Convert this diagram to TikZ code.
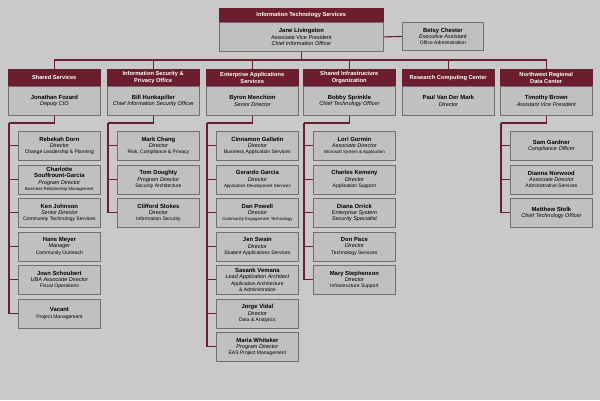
\documentclass[tikz,border=0pt]{standalone}
\usepackage{fontspec}
\setmainfont{Liberation Sans}
\definecolor{maroon}{HTML}{6B1E2E}
\definecolor{boxgray}{HTML}{C0C0C0}
\definecolor{edgegray}{HTML}{707070}
\definecolor{bggray}{HTML}{C9C9C9}
\newcommand{\kname}[1]{{\bfseries\fontsize{5.9}{6.7}\selectfont #1}}
\newcommand{\ktitle}[1]{{\itshape\fontsize{5.5}{6.3}\selectfont #1}}
\newcommand{\kdept}[1]{{\fontsize{5}{5.9}\selectfont #1}}
\tikzset{
  base/.style={anchor=north west, align=center, inner sep=1pt, font=\fontsize{5.5}{6.3}\selectfont},
  hdr/.style={base, fill=maroon, draw=maroon, text=white, minimum width=92pt, minimum height=17pt,
    font=\bfseries\fontsize{5.7}{6.7}\selectfont},
  body/.style={base, fill=boxgray, draw=edgegray, line width=0.8pt, minimum width=92pt, minimum height=29pt},
  kid/.style={body, minimum width=82pt},
  link/.style={draw=maroon, line width=1.1pt},
}
\begin{document}
\begin{tikzpicture}[x=1pt,y=-1pt]
\fill[bggray] (0,0) rectangle (600,400);
\useasboundingbox (0,0) rectangle (600,400);
% top
\node[hdr, minimum width=164pt, minimum height=14pt] (itsh) at (219,8) {Information Technology Services};
\node[body, minimum width=164pt] (its) at (219,22) {\kname{Jane Livingston}\\Associate Vice President\\\ktitle{Chief Information Officer}};
\node[body, minimum width=81pt, minimum height=28pt] (betsy) at (402,22) {\kname{Betsy Chester}\\\ktitle{Executive Assistant}\\\kdept{Office Administration}};
\draw[link] (its.east) -- (betsy.west);
\coordinate (bus) at (300,60);
% column heads
\foreach \id/\x/\h/\b in {
  ss/8/{Shared Services}/{\kname{Jonathan Fozard}\\\ktitle{Deputy CIO}},
  isp/107/{Information Security \&\\Privacy Office}/{\kname{Bill Hunkapiller}\\\ktitle{Chief Information Security Officer}},
  eas/206/{Enterprise Applications\\Services}/{\kname{Byron Menchion}\\\ktitle{Senior Director}},
  sio/303/{Shared Infrastructure\\Organization}/{\kname{Bobby Sprinkle}\\\ktitle{Chief Technology Officer}},
  rcc/402/{Research Computing Center}/{\kname{Paul Van Der Mark}\\\ktitle{Director}},
  nw/500/{Northwest Regional\\Data Center}/{\kname{Timothy Brown}\\\ktitle{Assistant Vice President}}}{
  \node[hdr] (\id h) at (\x,69) {\h};
  \node[body] (\id) at (\x,86) {\b};
  \draw[link] (its.south) |- (bus) -| (\id h.north);
  \coordinate (\id v) at ({\x+1},123);
}
\foreach \id in {ss,isp,eas,sio,nw}{
  \draw[link] (\id.south) |- (\id v);
}
% Shared Services
\foreach \c [count=\i] in {
  {\kname{Rebekah Dorn}\\\ktitle{Director}\\\kdept{Change Leadership \& Planning}},
  {\kname{Charlotte}\\\kname{Souffrount-Garcia}\\\ktitle{Program Director}\\\kdept{\fontsize{4.3}{5}\selectfont Business Relationship Management}},
  {\kname{Ken Johnson}\\\ktitle{Senior Director}\\\kdept{Community Technology Services}},
  {\kname{Hans Meyer}\\\ktitle{Manager}\\\kdept{Community Outreach}},
  {\kname{Joan Schoubert}\\\ktitle{UBA Associate Director}\\\kdept{Fiscal Operations}},
  {\kname{Vacant}\\\kdept{Project Management}}}{
  \node[kid] (ss\i) at (18,{131+(\i-1)*33.5}) {\c};
  \draw[link] (ssv) |- (ss\i.west);
}
% Information Security & Privacy Office
\foreach \c [count=\i] in {
  {\kname{Mark Chang}\\\ktitle{Director}\\\kdept{Risk, Compliance \& Privacy}},
  {\kname{Tom Doughty}\\\ktitle{Program Director}\\\kdept{Security Architecture}},
  {\kname{Clifford Stokes}\\\ktitle{Director}\\\kdept{Information Security}}}{
  \node[kid] (isp\i) at (117,{131+(\i-1)*33.5}) {\c};
  \draw[link] (ispv) |- (isp\i.west);
}
% Enterprise Applications Services
\foreach \c [count=\i] in {
  {\kname{Cinnamon Gallatin}\\\ktitle{Director}\\\kdept{Business Application Services}},
  {\kname{Gerardo Garcia}\\\ktitle{Director}\\\kdept{\fontsize{4.4}{5}\selectfont Application Development Services}},
  {\kname{Dan Powell}\\\ktitle{Director}\\\kdept{\fontsize{4.3}{5}\selectfont Community Engagement Technology}},
  {\kname{Jen Swain}\\\ktitle{Director}\\\kdept{Student Applications Services}},
  {\kname{Sasank Vemana}\\\ktitle{Lead Application Architect}\\\kdept{Application Architecture}\\\kdept{\& Administration}},
  {\kname{Jorge Vidal}\\\ktitle{Director}\\\kdept{Data \& Analytics}},
  {\kname{Maria Whitaker}\\\ktitle{Program Director}\\\kdept{EAS Project Management}}}{
  \node[kid] (eas\i) at (216,{131+(\i-1)*33.5}) {\c};
  \draw[link] (easv) |- (eas\i.west);
}
% Shared Infrastructure Organization
\foreach \c [count=\i] in {
  {\kname{Lori Gormin}\\\ktitle{Associate Director}\\\kdept{\fontsize{4.4}{5}\selectfont Microsoft System \& Application}},
  {\kname{Charles Kemeny}\\\ktitle{Director}\\\kdept{Application Support}},
  {\kname{Diana Orrick}\\\ktitle{Enterprise System}\\\ktitle{Security Specialist}},
  {\kname{Don Pace}\\\ktitle{Director}\\\kdept{Technology Services}},
  {\kname{Mary Stephenson}\\\ktitle{Director}\\\kdept{Infrastructure Support}}}{
  \node[kid] (sio\i) at (313,{131+(\i-1)*33.5}) {\c};
  \draw[link] (siov) |- (sio\i.west);
}
% Northwest Regional Data Center
\foreach \c [count=\i] in {
  {\kname{Sam Gardner}\\\ktitle{Compliance Officer}},
  {\kname{Dianna Norwood}\\\ktitle{Associate Director}\\\kdept{Administrative Services}},
  {\kname{Matthew Stolk}\\\ktitle{Chief Technology Officer}}}{
  \node[kid] (nw\i) at (510,{131+(\i-1)*33.5}) {\c};
  \draw[link] (nwv) |- (nw\i.west);
}
\end{tikzpicture}
\end{document}
